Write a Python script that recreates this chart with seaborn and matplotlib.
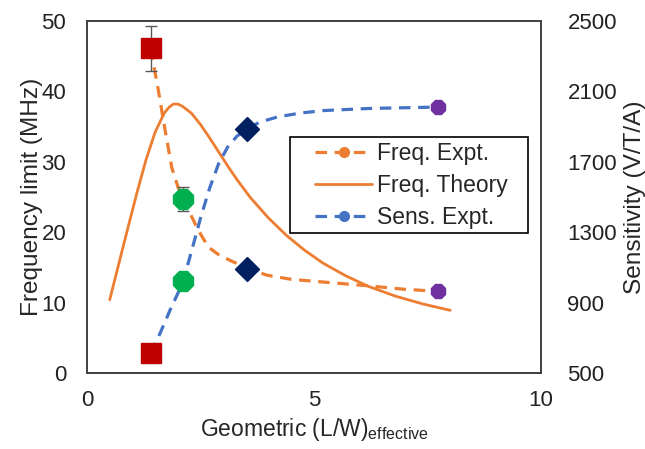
import matplotlib
matplotlib.use("Agg")
import matplotlib.pyplot as plt
from matplotlib.lines import Line2D
from matplotlib.patches import Rectangle
import seaborn as sns
import pandas as pd

# ---- data ----
# measured points (x = geometric L/W effective)
expt_x = [1.40, 2.12, 3.52, 7.72]
freq_expt = [46.1, 24.7, 14.8, 11.6]      # MHz
freq_err = [3.2, 1.7, 0.0, 0.0]
sens_expt = [612, 1024, 1886, 2011]       # V/T/A
point_colors = ["#C00000", "#00B050", "#002060", "#7030A0"]
point_markers = ["s", "8", "D", "8"]
point_sizes = [14, 15, 12, 11]

# smoothed dashed trend lines
freq_line_x = [1.40, 1.57, 1.72, 1.87, 2.00, 2.12, 2.23, 2.45, 2.67, 2.90, 3.15, 3.52,
               3.96, 4.50, 5.06, 6.16, 6.98, 7.72]
freq_line_y = [46.1, 40.2, 34.5, 29.1, 26.5, 24.7, 23.2, 20.3, 17.9, 16.8, 16.0, 14.9,
               13.9, 13.3, 13.0, 12.4, 11.9, 11.6]
sens_line_x = [1.40, 1.61, 1.83, 2.05, 2.12, 2.30, 2.50, 2.70, 2.90, 3.10, 3.30, 3.52,
               3.80, 4.20, 4.70, 5.20, 6.20, 7.72]
sens_line_y = [612, 726, 858, 980, 1024, 1190, 1380, 1550, 1690, 1785, 1845, 1886,
               1925, 1955, 1977, 1991, 2003, 2011]

# theory curve
theory_x = [0.5, 0.7, 0.9, 1.1, 1.3, 1.5, 1.7, 1.8, 1.9, 2.0, 2.1, 2.3, 2.5, 2.7, 2.9,
            3.1, 3.3, 3.6, 4.0, 4.4, 4.8, 5.2, 5.7, 6.2, 6.8, 7.4, 8.0]
theory_y = [10.4, 15.5, 20.6, 25.6, 30.3, 34.2, 36.9, 37.7, 38.2, 38.2, 37.9, 36.9, 35.3,
            33.4, 31.4, 29.4, 27.5, 24.9, 22.0, 19.5, 17.4, 15.6, 13.8, 12.3, 10.9, 9.8, 8.9]

ORANGE = "#ED7D31"
BLUE = "#4472C4"
DASH = (3.6, 2.4)

sns.set_style("white")
plt.rcParams["font.family"] = ["Liberation Sans", "DejaVu Sans"]
plt.rcParams["mathtext.fontset"] = "custom"
plt.rcParams["mathtext.rm"] = "Liberation Sans"

fig = plt.figure(figsize=(6.45, 4.49), dpi=100)
ax = fig.add_axes([0.1349, 0.1693, 0.7039, 0.7839])
ax2 = ax.twinx()

theory_df = pd.DataFrame({"x": theory_x, "y": theory_y})
freq_df = pd.DataFrame({"x": freq_line_x, "y": freq_line_y})
sens_df = pd.DataFrame({"x": sens_line_x, "y": sens_line_y})

sns.lineplot(data=theory_df, x="x", y="y", ax=ax, color=ORANGE, lw=2.0,
             sort=False, estimator=None, zorder=2)
sns.lineplot(data=freq_df, x="x", y="y", ax=ax, color=ORANGE, lw=2.3,
             sort=False, estimator=None, zorder=2)
ax.lines[-1].set_dashes(DASH)
sns.lineplot(data=sens_df, x="x", y="y", ax=ax2, color=BLUE, lw=2.3,
             sort=False, estimator=None, zorder=2)
ax2.lines[-1].set_dashes(DASH)

# error bars + markers
for i in range(len(expt_x)):
    if freq_err[i] > 0:
        ax.errorbar(expt_x[i], freq_expt[i], yerr=freq_err[i], fmt="none",
                    ecolor="#595959", elinewidth=1, capsize=4, capthick=1, zorder=3)
    ax.plot(expt_x[i], freq_expt[i], marker=point_markers[i], color=point_colors[i],
            markersize=point_sizes[i], linestyle="none", zorder=4)
    ax2.plot(expt_x[i], sens_expt[i], marker=point_markers[i], color=point_colors[i],
             markersize=point_sizes[i], linestyle="none", zorder=4)

ax.set_xlim(0, 10)
ax.set_ylim(0, 50)
ax2.set_ylim(500, 2500)
ax.set_xticks([0, 5, 10])
ax.set_yticks(range(0, 51, 10))
ax2.set_yticks(range(500, 2501, 400))

ax.tick_params(axis="x", length=0, pad=12, labelsize=16, colors="#222222")
ax.tick_params(axis="y", length=0, pad=15, labelsize=16, colors="#222222")
ax2.tick_params(axis="y", length=0, pad=19, labelsize=16, colors="#222222")

ax.set_xlabel(r"Geometric (L/W)$_{\mathregular{effective}}$", fontsize=16.5, labelpad=4)
ax.set_ylabel("Frequency limit (MHz)", fontsize=17.6, labelpad=-1)
ax2.set_ylabel("Sensitivity (V/T/A)", fontsize=17.6, labelpad=5)

for a in (ax, ax2):
    for s in a.spines.values():
        s.set_color("#404040")
        s.set_linewidth(1.2)

# legend box drawn as in the reference (wide left padding)
ax2.add_patch(Rectangle((0.447, 0.398), 0.524, 0.272, transform=ax2.transAxes,
                        facecolor="white", edgecolor="black", lw=1.2, zorder=5))
handles = [
    Line2D([], [], color=ORANGE, lw=2.3, dashes=DASH, marker="o", markersize=7),
    Line2D([], [], color=ORANGE, lw=2.0),
    Line2D([], [], color=BLUE, lw=2.3, dashes=DASH, marker="o", markersize=7),
]
leg = ax2.legend(handles, ["Freq. Expt.", "Freq. Theory", "Sens. Expt."],
                 loc="upper left", bbox_to_anchor=(0.502, 0.657), borderaxespad=0,
                 fontsize=16.5, frameon=False, handlelength=2.5, handletextpad=0.2,
                 labelspacing=0.4, borderpad=0)
leg.set_zorder(6)

fig.savefig("out.png", dpi=100)
